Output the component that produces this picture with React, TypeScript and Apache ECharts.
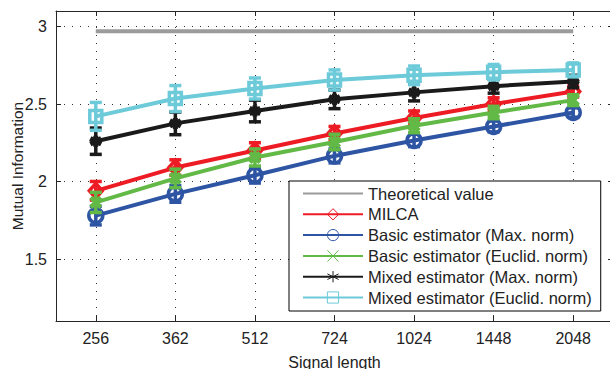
import React, { useEffect, useRef } from "react";
import * as echarts from "echarts";

const categories = ["256", "362", "512", "724", "1024", "1448", "2048"];
const yTicks = [1.5, 2, 2.5, 3];

const theoretical = [2.97, 2.97, 2.97, 2.97, 2.97, 2.97, 2.97];
const milca = [1.94, 2.09, 2.2, 2.31, 2.41, 2.5, 2.58];
const milcaErr = [0.06, 0.05, 0.05, 0.045, 0.045, 0.04, 0.035];
const basicMax = [1.78, 1.92, 2.04, 2.165, 2.265, 2.355, 2.445];
const basicMaxErr = [0.06, 0.054, 0.05, 0.045, 0.04, 0.035, 0.03];
const basicEuclid = [1.865, 2.02, 2.155, 2.255, 2.36, 2.445, 2.525];
const basicEuclidErr = [0.065, 0.06, 0.055, 0.05, 0.045, 0.04, 0.035];
const mixedMax = [2.26, 2.375, 2.455, 2.53, 2.575, 2.615, 2.645];
const mixedMaxErr = [0.085, 0.073, 0.07, 0.06, 0.055, 0.045, 0.04];
const mixedEuclid = [2.42, 2.535, 2.6, 2.655, 2.685, 2.705, 2.72];
const mixedEuclidErr = [0.09, 0.084, 0.068, 0.065, 0.06, 0.05, 0.045];

const FONT = "Liberation Sans, Arial, sans-serif";

const estimators = [
  { name: "MILCA", values: milca, err: milcaErr, color: "#ED1C24", symbol: "diamond", size: [13, 15], bw: 3.5 },
  { name: "Basic estimator (Max. norm)", values: basicMax, err: basicMaxErr, color: "#2E55A4", symbol: "circle", size: 14, bw: 3.5 },
  { name: "Basic estimator (Euclid. norm)", values: basicEuclid, err: basicEuclidErr, color: "#62B946", symbol: "path://M0,0L10,10M0,10L10,0", size: 10, bw: 4.5 },
  { name: "Mixed estimator (Max. norm)", values: mixedMax, err: mixedMaxErr, color: "#1A1A1A", symbol: "path://M5,0L5,10M0.67,2.5L9.33,7.5M0.67,7.5L9.33,2.5", size: 11, bw: 5 },
  { name: "Mixed estimator (Euclid. norm)", values: mixedEuclid, err: mixedEuclidErr, color: "#6DCAD9", symbol: "rect", size: 12, bw: 3.5 },
];

export default function App() {
  const ref = useRef<HTMLDivElement>(null);
  useEffect(() => {
    if (!ref.current) return;
    const chart = echarts.init(ref.current, null, { renderer: "svg" });
    const series: any[] = [
      {
        name: "Theoretical value",
        type: "line",
        data: theoretical.map((v, i) => [i, v]),
        symbol: "none",
        color: "#9B9B9B",
        lineStyle: { color: "#9B9B9B", width: 4 },
        z: 2,
      },
    ];
    estimators.forEach((e, k) => {
      series.push({
        name: e.name + " err",
        type: "custom",
        data: e.values.map((v, i) => [i, v - e.err[i], v + e.err[i]]),
        z: 3 + k,
        renderItem: (params: any, api: any) => {
          const x = api.value(0);
          const p1 = api.coord([x, api.value(1)]);
          const p2 = api.coord([x, api.value(2)]);
          const hw = 6;
          const st = { stroke: e.color, lineWidth: 3.5 };
          return {
            type: "group",
            children: [
              { type: "line", shape: { x1: p1[0], y1: p1[1], x2: p2[0], y2: p2[1] }, style: st },
              { type: "line", shape: { x1: p1[0] - hw, y1: p1[1], x2: p1[0] + hw, y2: p1[1] }, style: st },
              { type: "line", shape: { x1: p2[0] - hw, y1: p2[1], x2: p2[0] + hw, y2: p2[1] }, style: st },
            ],
          };
        },
      });
      series.push({
        name: e.name,
        type: "line",
        data: e.values.map((v, i) => [i, v]),
        symbol: e.symbol,
        symbolSize: e.size,
        color: e.color,
        lineStyle: { color: e.color, width: 4 },
        itemStyle: { color: "rgba(255,255,255,0)", borderColor: e.color, borderWidth: e.bw },
        z: 3 + k,
      });
    });

    const axisLine = { show: true, onZero: false, lineStyle: { color: "#262626", width: 1 } };
    chart.setOption({
      animation: false,
      textStyle: { fontFamily: FONT },
      grid: { left: 56, top: 11, right: -3, bottom: 48, containLabel: false, outerBoundsMode: "none" },
      legend: {
        orient: "vertical",
        left: 289,
        top: 181,
        padding: [4, 9, 5, 13],
        itemWidth: 60,
        itemHeight: 14,
        itemGap: 3.8,
        borderColor: "#000",
        borderWidth: 1,
        backgroundColor: "#fff",
        itemStyle: { borderWidth: 1 },
        textStyle: { fontSize: 16.5, lineHeight: 14, color: "#222", fontFamily: FONT },
        data: [
          { name: "Theoretical value", itemStyle: { opacity: 0 } },
          ...estimators.map((e) => e.name),
        ],
      },
      xAxis: [
        {
          type: "value",
          min: -0.5,
          max: 6.5,
          name: "Signal length",
          nameLocation: "middle",
          nameGap: 33,
          nameMoveOverlap: false,
          nameTextStyle: { fontSize: 16, color: "#222", fontFamily: FONT },
          axisLine,
          axisTick: { show: true, inside: true, length: 5, customValues: [0, 1, 2, 3, 4, 5, 6], lineStyle: { color: "#262626" } },
          axisLabel: {
            customValues: [0, 1, 2, 3, 4, 5, 6],
            formatter: (v: number) => categories[Math.round(v)] ?? "",
            fontSize: 16,
            color: "#222",
            margin: 9,
          },
          splitLine: { show: true, lineStyle: { type: [1, 7], color: "#333", width: 1 } },
        },
        {
          type: "value",
          position: "top",
          min: -0.5,
          max: 6.5,
          axisLine,
          axisTick: { show: true, inside: true, length: 5, customValues: [0, 1, 2, 3, 4, 5, 6], lineStyle: { color: "#262626" } },
          axisLabel: { show: false },
          splitLine: { show: false },
        },
      ],
      yAxis: [
        {
          type: "value",
          min: 1.1,
          max: 3.1,
          name: "Mutual Information",
          nameLocation: "middle",
          nameGap: 31,
          nameMoveOverlap: false,
          nameTextStyle: { fontSize: 15.5, color: "#222", fontFamily: FONT },
          axisLine,
          axisTick: { show: true, inside: true, length: 5, customValues: yTicks, lineStyle: { color: "#262626" } },
          axisLabel: { customValues: yTicks, fontSize: 16, color: "#222", margin: 9 },
          splitLine: { show: true, lineStyle: { type: [1, 7], color: "#333", width: 1 } },
        },
        {
          type: "value",
          position: "right",
          min: 1.1,
          max: 3.1,
          axisLine,
          axisTick: { show: true, inside: true, length: 5, customValues: yTicks, lineStyle: { color: "#262626" } },
          axisLabel: { show: false },
          splitLine: { show: false },
        },
      ],
      series,
    });
    return () => chart.dispose();
  }, []);
  return <div ref={ref} style={{ position: "fixed", left: 0, top: 0, width: 610, height: 369, background: "#fff" }} />;
}
